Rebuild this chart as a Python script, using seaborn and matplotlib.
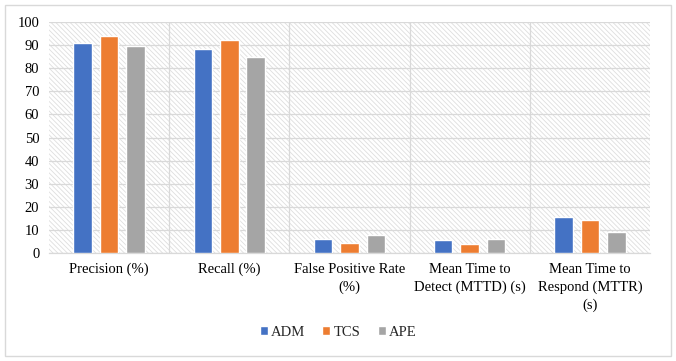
import matplotlib
matplotlib.use("Agg")
import matplotlib.pyplot as plt
import matplotlib.patches as mpatches
import seaborn as sns
import pandas as pd

# values
metrics = ["Precision (%)", "Recall (%)", "False Positive Rate\n(%)",
           "Mean Time to\nDetect (MTTD) (s)", "Mean Time to\nRespond (MTTR)\n(s)"]
adm = [91, 88.3, 6.1, 5.6, 15.6]
tcs = [94, 92.2, 4.3, 3.9, 14.3]
ape = [89.7, 84.8, 7.8, 6.1, 9.1]
methods = ["ADM", "TCS", "APE"]
colors = ["#4472C4", "#ED7D31", "#A5A5A5"]

rows = []
for name, vals in zip(methods, [adm, tcs, ape]):
    for m, v in zip(metrics, vals):
        rows.append({"metric": m, "method": name, "value": v})
df = pd.DataFrame(rows)

sns.set_style("white")
plt.rcParams['font.family'] = ['Liberation Serif', 'DejaVu Serif']
plt.rcParams['hatch.color'] = '#dedede'
plt.rcParams['hatch.linewidth'] = 0.6

fig = plt.figure(figsize=(6.76, 3.61), dpi=100)
ax = fig.add_axes([0.0725, 0.299, 0.889, 0.64])

# hatched background of the plot area
ax.add_patch(mpatches.Rectangle((0, 0), 1, 1, transform=ax.transAxes,
                                facecolor='white', edgecolor='#dedede',
                                hatch='\\' * 7, linewidth=0, zorder=0))

sns.barplot(data=df, x="metric", y="value", hue="method", palette=colors,
            saturation=1, width=0.66, gap=0.3, ax=ax, zorder=3, legend=True)

ax.set_xlim(-0.5, len(metrics) - 0.5)
ax.set_ylim(0, 100)
ax.set_yticks(range(0, 101, 10))
ax.set_xticks([i + 0.5 for i in range(len(metrics) - 1)], minor=True)
ax.grid(axis='y', color='#d9d9d9', linewidth=0.9, zorder=1)
ax.grid(axis='x', which='minor', color='#d9d9d9', linewidth=0.9, zorder=1)
ax.set_axisbelow(True)
ax.tick_params(axis='both', which='both', length=0, labelsize=10.5, colors='#000000')
ax.tick_params(axis='x', pad=7)
ax.tick_params(axis='y', pad=7)
for lab in ax.get_xticklabels():
    lab.set_linespacing(1.45)
ax.set_xlabel("")
ax.set_ylabel("")
for s in ax.spines.values():
    s.set_color('#d9d9d9')
    s.set_linewidth(0.9)
ax.spines['left'].set_visible(False)
ax.spines['top'].set_visible(False)
ax.spines['right'].set_visible(False)

handles, labels = ax.get_legend_handles_labels()
ax.get_legend().remove()
fig.legend(handles, labels, loc='center', bbox_to_anchor=(0.5, 0.08), ncol=3,
           frameon=False, fontsize=10.5, handlelength=0.55, handleheight=0.55,
           handletextpad=0.2, columnspacing=1.2)

# outer frame like the chart border
fig.add_artist(mpatches.Rectangle((0.008, 0.014), 0.984, 0.972, transform=fig.transFigure,
                                  fill=False, edgecolor='#d9d9d9', linewidth=1))

fig.savefig("out.png", dpi=100)
